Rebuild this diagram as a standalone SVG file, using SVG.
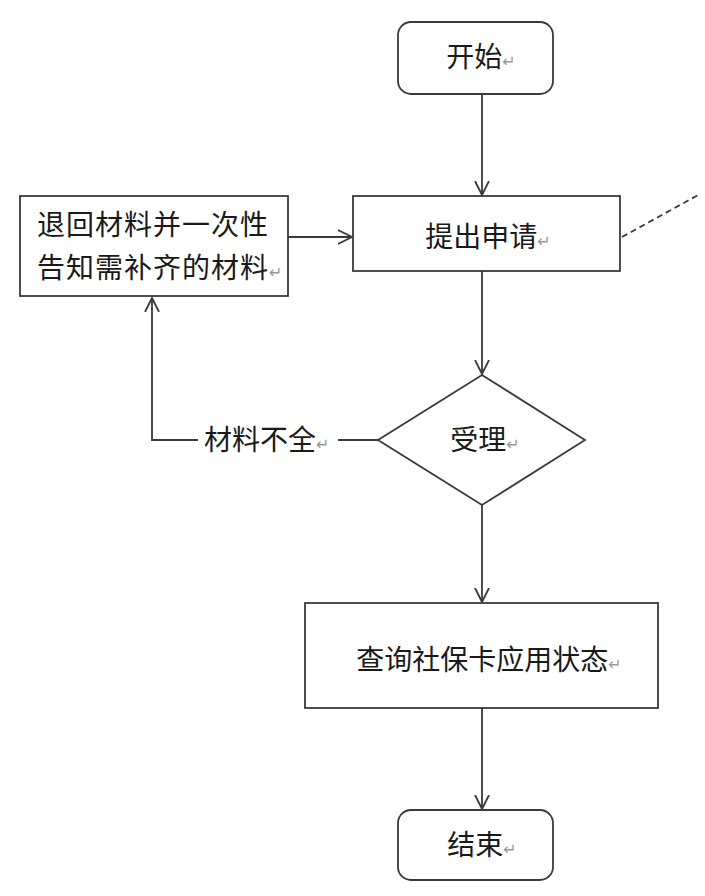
<svg xmlns="http://www.w3.org/2000/svg" width="705" height="896" viewBox="0 0 705 896">
<style>
.box{fill:#fff;stroke:#3a3a3a;stroke-width:1.8}
.ln{fill:none;stroke:#3a3a3a;stroke-width:1.8}
.t{font-family:"Noto Sans CJK SC","DejaVu Sans",sans-serif;font-size:28px;fill:#1a1a1a}
.rm{font-family:"DejaVu Sans",sans-serif;font-size:16px;fill:#999}
</style>
<defs>
<marker id="ah" viewBox="0 0 15 16" refX="14" refY="8" markerWidth="15" markerHeight="16" markerUnits="userSpaceOnUse" orient="auto">
<path d="M0,1 L14,8 L0,15" fill="none" stroke="#3a3a3a" stroke-width="1.8"/>
</marker>
</defs>
<rect width="705" height="896" fill="#fff"/>
<g id="connectors">
<line class="ln" x1="482" y1="94" x2="482" y2="195" marker-end="url(#ah)"/>
<line class="ln" x1="288" y1="237" x2="352" y2="237" marker-end="url(#ah)"/>
<line class="ln" x1="482" y1="271" x2="482" y2="374" marker-end="url(#ah)"/>
<line class="ln" x1="378" y1="440" x2="338" y2="440"/>
<polyline class="ln" points="198,440 152,440 152,298" marker-end="url(#ah)"/>
<line class="ln" x1="482" y1="505" x2="482" y2="602" marker-end="url(#ah)"/>
<line class="ln" x1="482" y1="708" x2="482" y2="809" marker-end="url(#ah)"/>
<line class="ln" x1="622" y1="237" x2="700" y2="194" stroke-dasharray="6,4"/>
</g>
<g id="start">
<rect class="box" x="398" y="22" width="155" height="72" rx="13"/>
<text class="t" x="481" y="67" text-anchor="middle">开始<tspan class="rm">↵</tspan></text>
</g>
<g id="apply">
<rect class="box" x="353" y="196" width="267" height="75"/>
<text class="t" x="488" y="247" text-anchor="middle">提出申请<tspan class="rm">↵</tspan></text>
</g>
<g id="return">
<rect class="box" x="20" y="196" width="268" height="100"/>
<text class="t" x="37" y="235" letter-spacing="1">退回材料并一次性</text>
<text class="t" x="37" y="278" letter-spacing="1">告知需补齐的材料<tspan class="rm" letter-spacing="0">↵</tspan></text>
</g>
<g id="accept">
<polygon class="box" points="482,375 585,440 482,505 378,440"/>
<text class="t" x="485" y="450" text-anchor="middle">受理<tspan class="rm">↵</tspan></text>
</g>
<g id="label-incomplete">
<text class="t" x="204" y="450">材料不全<tspan class="rm">↵</tspan></text>
</g>
<g id="query">
<rect class="box" x="305" y="603" width="353" height="105"/>
<text class="t" x="489" y="670" text-anchor="middle">查询社保卡应用状态<tspan class="rm">↵</tspan></text>
</g>
<g id="end">
<rect class="box" x="398" y="810" width="155" height="70" rx="13"/>
<text class="t" x="482" y="855" text-anchor="middle">结束<tspan class="rm">↵</tspan></text>
</g>
</svg>
